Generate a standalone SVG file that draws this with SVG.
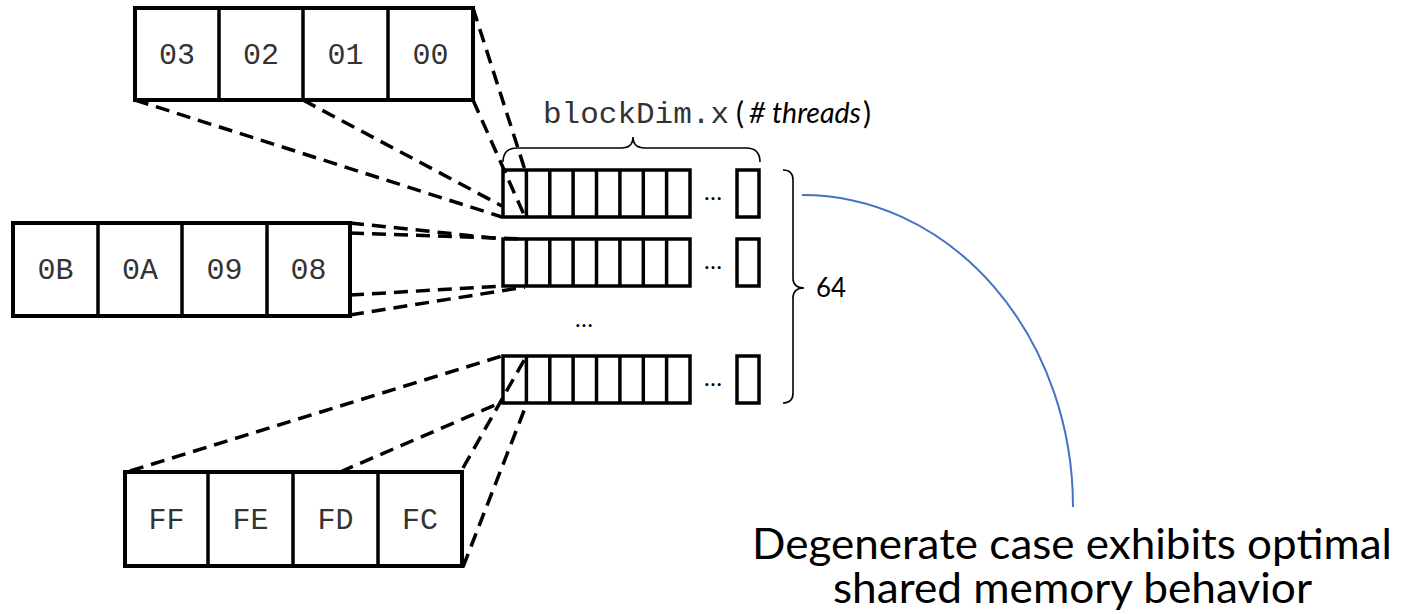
<svg xmlns="http://www.w3.org/2000/svg" width="1413" height="614" viewBox="0 0 1413 614">
<style>
.box{fill:#fff;stroke:#000;stroke-width:4}
.cell{fill:none;stroke:#000;stroke-width:3.5}
.lbl{font-family:"Liberation Mono","Courier New",monospace;font-size:30px;fill:#333;text-anchor:middle}
.sans{font-family:Lato,"Open Sans",sans-serif;fill:#000}
.dash{fill:none;stroke:#000;stroke-width:3.5;stroke-dasharray:14 8}
.brace{fill:none;stroke:#000;stroke-width:1.6}
.dots{font-family:Lato,"Open Sans",sans-serif;font-size:24px;fill:#000;text-anchor:middle}
</style>
<rect width="1413" height="614" fill="#fff"/>
<g id="connectors">
  <path class="dash" d="M135,100 L502,217"/>
  <path class="dash" d="M303,100 L502,206"/>
  <path class="dash" d="M473,100 L525,217"/>
  <path class="dash" d="M473,8 L525,170"/>
  <path class="dash" d="M350,223 L503,239"/>
  <path class="dash" d="M350,233 L525,239"/>
  <path class="dash" d="M350,295 L503,286"/>
  <path class="dash" d="M350,315 L525,287"/>
  <path class="dash" d="M130,471 L502,356"/>
  <path class="dash" d="M340,472 L502,402"/>
  <path class="dash" d="M463,468 L527,355"/>
  <path class="dash" d="M463,567 L527,403"/>
  <path d="M802,195 A271,312 0 0 1 1073,507" fill="none" stroke="#4472C4" stroke-width="2"/>
</g>
<g id="box-top">
  <rect class="box" x="135" y="8" width="338" height="92"/>
  <path class="cell" d="M219,8V100M303,8V100M388,8V100" stroke-width="4"/>
  <text class="lbl" x="177" y="64">03</text>
  <text class="lbl" x="261" y="64">02</text>
  <text class="lbl" x="345.5" y="64">01</text>
  <text class="lbl" x="430.5" y="64">00</text>
</g>
<g id="box-mid">
  <rect class="box" x="13" y="223" width="337" height="93"/>
  <path class="cell" d="M98,223V316M182,223V316M267,223V316" stroke-width="4"/>
  <text class="lbl" x="55.5" y="279">0B</text>
  <text class="lbl" x="140" y="279">0A</text>
  <text class="lbl" x="224.5" y="279">09</text>
  <text class="lbl" x="308.5" y="279">08</text>
</g>
<g id="box-bottom">
  <rect class="box" x="125" y="472" width="337" height="94"/>
  <path class="cell" d="M208,472V566M293,472V566M378,472V566" stroke-width="4"/>
  <text class="lbl" x="166.5" y="529">FF</text>
  <text class="lbl" x="250.5" y="529">FE</text>
  <text class="lbl" x="335.5" y="529">FD</text>
  <text class="lbl" x="420" y="529">FC</text>
</g>
<g id="row-1">
  <rect class="cell" x="503" y="170" width="187" height="47"/>
  <path class="cell" d="M526.4,170V217M549.8,170V217M573.1,170V217M596.5,170V217M619.9,170V217M643.3,170V217M666.6,170V217"/>
  <text class="dots" x="713" y="200">…</text>
  <rect class="cell" x="737" y="170" width="22" height="47"/>
</g>
<g id="row-2">
  <rect class="cell" x="503" y="239" width="187" height="47"/>
  <path class="cell" d="M526.4,239V286M549.8,239V286M573.1,239V286M596.5,239V286M619.9,239V286M643.3,239V286M666.6,239V286"/>
  <text class="dots" x="713" y="269">…</text>
  <rect class="cell" x="737" y="239" width="22" height="47"/>
</g>
<text class="dots" x="584" y="327">…</text>
<g id="row-3">
  <rect class="cell" x="503" y="356" width="187" height="47"/>
  <path class="cell" d="M526.4,356V403M549.8,356V403M573.1,356V403M596.5,356V403M619.9,356V403M643.3,356V403M666.6,356V403"/>
  <text class="dots" x="713" y="386">…</text>
  <rect class="cell" x="737" y="356" width="22" height="47"/>
</g>
<g id="brace-threads">
  <path class="brace" d="M503,162 Q503,148 517,148 H621 Q633,148 633,137 Q633,148 645,148 H746 Q760,148 760,162"/>
  <text x="543" y="123" textLength="186" lengthAdjust="spacingAndGlyphs" style="font-family:'Liberation Mono','Courier New',monospace;font-size:29px;fill:#333">blockDim.x</text>
  <text class="sans" x="736" y="124" style="font-size:30px">(</text>
  <text class="sans" x="749" y="123" textLength="112" lengthAdjust="spacingAndGlyphs" style="font-size:29px;font-style:italic"># threads</text>
  <text class="sans" x="863" y="124" style="font-size:30px">)</text>
</g>
<g id="brace-64">
  <path class="brace" d="M783,170 Q793,170 793,180 V278 Q793,288 804,288 Q793,288 793,298 V393 Q793,403 783,403"/>
  <text class="sans" x="816" y="297" textLength="30" lengthAdjust="spacingAndGlyphs" style="font-size:26px">64</text>
</g>
<g id="caption">
  <text class="sans" x="752" y="559" textLength="640" lengthAdjust="spacingAndGlyphs" style="font-size:43px">Degenerate case exhibits optimal</text>
  <text class="sans" x="833" y="603" textLength="479" lengthAdjust="spacingAndGlyphs" style="font-size:43px">shared memory behavior</text>
</g>
</svg>
